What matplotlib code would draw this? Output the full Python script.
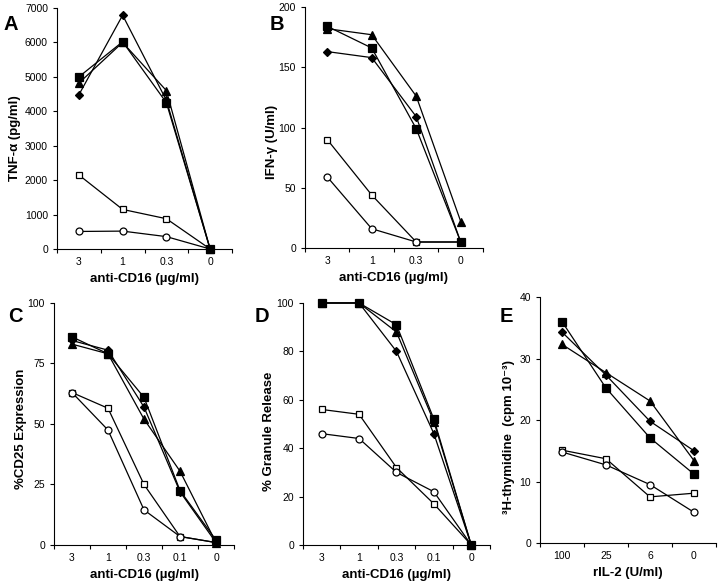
import matplotlib
matplotlib.use("Agg")
import matplotlib.pyplot as plt
import numpy as np

plt.rcParams['font.family'] = ['Liberation Sans', 'DejaVu Sans']

# --- du lieu doc tu hinh ---
dose_ab = ['3', '1', '0.3', '0']
dose_cd = ['3', '1', '0.3', '0.1', '0']
dose_e = ['100', '25', '6', '0']

# A: TNF-alpha (pg/ml)
a_sq = [5000, 6020, 4250, 0]
a_tri = [4820, 6000, 4600, 0]
a_dia = [4480, 6790, 4320, 0]
a_osq = [2150, 1150, 880, 0]
a_oci = [510, 520, 360, 0]

# B: IFN-gamma (U/ml)
b_sq = [184, 166, 99, 5]
b_tri = [182, 177, 126, 22]
b_dia = [163, 158, 109, 5]
b_osq = [90, 44, 5, 5]
b_oci = [59, 16, 5, 5]

# C: %CD25
c_sq = [86, 79, 61, 22.5, 2]
c_tri = [83, 79, 52, 30.5, 1]
c_dia = [84.5, 80.5, 57, 22, 1]
c_osq = [63, 56.5, 25, 3.5, 1]
c_oci = [63, 47.5, 14.5, 3.5, 1]

# D: % granule release
d_sq = [100, 100, 91, 52, 0]
d_tri = [100, 100, 88, 51, 0]
d_dia = [100, 100, 80, 46, 0]
d_osq = [56, 54, 32, 17, 0]
d_oci = [46, 44, 30, 22, 0]

# E: 3H-thymidine
e_sq = [36, 25.2, 17.1, 11.2]
e_tri = [32.3, 27.7, 23.1, 13.4]
e_dia = [34.3, 27.3, 19.8, 15.0]
e_osq = [15.1, 13.7, 7.5, 8.1]
e_oci = [14.8, 12.7, 9.5, 5.0]

styles = [
    ('osq', dict(marker='s', mfc='white', ms=5.0)),
    ('oci', dict(marker='o', mfc='white', ms=5.0)),
    ('dia', dict(marker='D', mfc='black', ms=4.0)),
    ('tri', dict(marker='^', mfc='black', ms=5.5)),
    ('sq', dict(marker='s', mfc='black', ms=5.5)),
]


def draw(ax, labels, series, yticks, ylabel, xlabel, ylab_xy):
    n = len(labels)
    x = np.arange(1, n + 1)
    for key, st in styles:
        ax.plot(x, series[key], color='black', lw=0.9, mec='black',
                mew=0.9, clip_on=False, zorder=3, **st)
    ax.set_xlim(0.5, n + 0.5)
    ax.set_ylim(yticks[0], yticks[-1])
    ax.set_yticks(yticks)
    ax.set_xticks(np.arange(0.5, n + 1, 1.0))
    ax.set_xticklabels([])
    ax.set_xticks(x, minor=True)
    ax.set_xticklabels(labels, minor=True)
    ax.tick_params(axis='x', which='major', length=3, width=0.8, direction='out')
    ax.tick_params(axis='x', which='minor', length=0, pad=6, labelsize=7.5)
    ax.tick_params(axis='y', length=3, width=0.8, direction='out', labelsize=7.5)
    for s in ['top', 'right']:
        ax.spines[s].set_visible(False)
    for s in ['left', 'bottom']:
        ax.spines[s].set_linewidth(0.8)
    ax.set_xlabel(xlabel, fontsize=9.5, fontweight='bold', labelpad=4)
    ax.set_ylabel(ylabel, fontsize=9.5, fontweight='bold')
    ax.yaxis.set_label_coords(*ylab_xy)


fig = plt.figure(figsize=(7.2, 5.84), dpi=100)

axA = fig.add_axes([0.0792, 0.5736, 0.243, 0.4127])
axB = fig.add_axes([0.4236, 0.5753, 0.2472, 0.4127])
axC = fig.add_axes([0.075, 0.0668, 0.25, 0.4144])
axD = fig.add_axes([0.4208, 0.0668, 0.2597, 0.4144])
axE = fig.add_axes([0.75, 0.0702, 0.2444, 0.4212])

xl = 'anti-CD16 (\u00b5g/ml)'
draw(axA, dose_ab, dict(sq=a_sq, tri=a_tri, dia=a_dia, osq=a_osq, oci=a_oci),
     np.arange(0, 7001, 1000), 'TNF-\u03b1 (pg/ml)', xl, (-0.205, 0.46))
draw(axB, dose_ab, dict(sq=b_sq, tri=b_tri, dia=b_dia, osq=b_osq, oci=b_oci),
     np.arange(0, 201, 50), 'IFN-\u03b3 (U/ml)', xl, (-0.152, 0.44))
draw(axC, dose_cd, dict(sq=c_sq, tri=c_tri, dia=c_dia, osq=c_osq, oci=c_oci),
     np.arange(0, 101, 25), '%CD25 Expression', xl, (-0.15, 0.48))
draw(axD, dose_cd, dict(sq=d_sq, tri=d_tri, dia=d_dia, osq=d_osq, oci=d_oci),
     np.arange(0, 101, 20), '% Granule Release', xl, (-0.15, 0.47))
draw(axE, dose_e, dict(sq=e_sq, tri=e_tri, dia=e_dia, osq=e_osq, oci=e_oci),
     np.arange(0, 41, 10), '\u00b3H-thymidine  (cpm 10\u207b\u00b3)', 'rIL-2 (U/ml)',
     (-0.142, 0.43))

# chu cai cac panel
for lab, xp, yp in [('A', 3, 25), ('B', 270, 25), ('C', 8, 317),
                    ('D', 255, 316), ('E', 500, 316)]:
    fig.text(xp / 720, 1 - yp / 584, lab, fontsize=14.5, fontweight='bold',
             ha='left', va='center')

plt.savefig('out.png', dpi=100)
